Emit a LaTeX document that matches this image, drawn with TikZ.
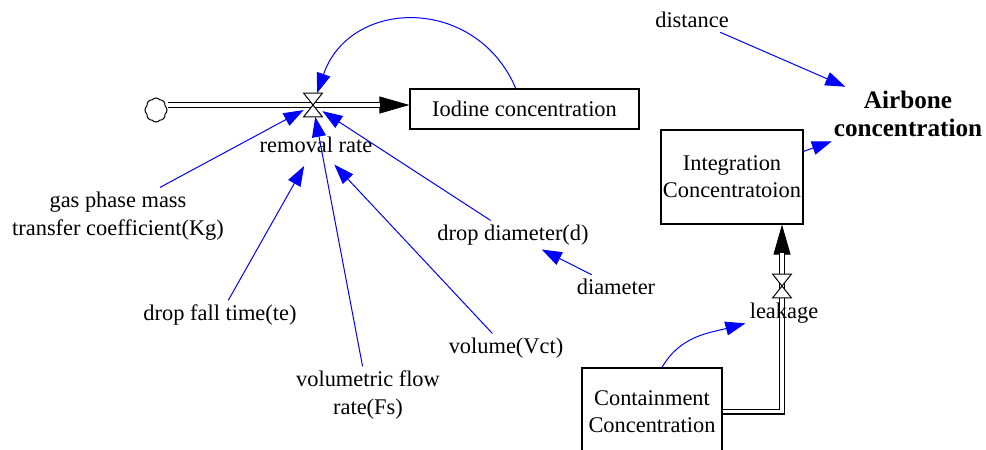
\documentclass[tikz,border=0pt]{standalone}
\usepackage{fontspec}
\setmainfont{Liberation Serif}
\usetikzlibrary{arrows.meta,shapes.symbols,calc}

\tikzset{
  stock/.style={draw, line width=0.6pt, inner sep=0pt, align=center, font=\fontsize{11.2}{13.6}\selectfont},
  lbl/.style={inner sep=2pt, align=center},
  link/.style={blue, line width=0.5pt, -{Triangle[length=10pt,width=7pt]}},
  pipe/.style={draw=black, line width=0.6pt, double=white, double distance=1.8pt},
  flowtip/.style={line width=0.4pt, -{Triangle[length=15pt,width=8.5pt]}},
  valve/.style={inner sep=0pt, minimum width=9pt, minimum height=11.5pt},
}

\begin{document}
\begin{tikzpicture}[x=0.5pt, y=0.5pt, font=\fontsize{11.2}{14}\selectfont]
\useasboundingbox (0,0) rectangle (986,-450);
\node[stock, minimum width=114.5pt, minimum height=20pt] (iodine) at (524.5,-109) {Iodine concentration};
\node[stock, minimum width=71pt, minimum height=47pt] (integ) at (732,-177) {Integration\\Concentratoion};
\node[stock, minimum width=70pt, minimum height=43.5pt] (cont) at (652,-411.5) {Containment\\Concentration};
\node[cloud, draw, cloud puffs=8, cloud puff arc=100, aspect=0.9, minimum width=11pt, minimum height=12pt, inner sep=0pt, line width=0.5pt] (src) at (156,-110) {};
\node[valve] (rate) at (313,-105) {};
\node[valve] (leakv) at (782,-286) {};

\draw[flowtip] (rate) -- (rate -| iodine.west);
\draw[pipe, shorten >=14.5pt] (src.east |- rate) -- (rate -| iodine.west);
\draw[flowtip] (leakv) -- (integ.south -| leakv);
\draw[pipe, shorten >=14pt] (cont.east) -| (integ.south -| leakv);
\foreach \v in {rate,leakv}
  \draw[fill=white, line width=0.5pt] (\v.north west) -- (\v.north east) -- (\v.center) -- cycle
    (\v.center) -- (\v.south west) -- (\v.south east) -- cycle;

\node[lbl] (ratelbl) at (316,-145) {removal rate};
\node[lbl] (gas) at (118,-216) {gas phase mass\\transfer coefficient(Kg)};
\node[lbl] (fall) at (220,-315) {drop fall time(te)};
\node[lbl] (volflow) at (368,-395) {volumetric flow\\rate(Fs)};
\node[lbl] (vol) at (506,-348) {volume(Vct)};
\node[lbl] (dropd) at (513,-235) {drop diameter(d)};
\node[lbl] (diam) at (616,-287) {diameter};
\node[lbl] (leak) at (784,-313) {leakage};
\node[lbl] (dist) at (692,-20) {distance};
\node[lbl, font=\fontsize{12.6}{14}\selectfont\bfseries] (air) at (908,-114) {Airbone\\concentration};

\draw[link] (iodine) to[out=113, in=71, looseness=1.3] (rate);
\draw[link] ([xshift=21pt]gas.north) -- (rate);
\draw[link, shorten >=5pt] (fall) -- (ratelbl);
\draw[link] (volflow) -- (rate);
\draw[link, shorten >=5pt] (vol) -- (ratelbl);
\draw[link] (dropd) -- (rate);
\draw[link] (diam) -- (dropd);
\draw[link] (dist) -- (air);
\draw[link] (integ) -- (air);
\draw[link] ([xshift=5pt]cont.north) to[out=60, in=195] (leak);
\end{tikzpicture}
\end{document}
